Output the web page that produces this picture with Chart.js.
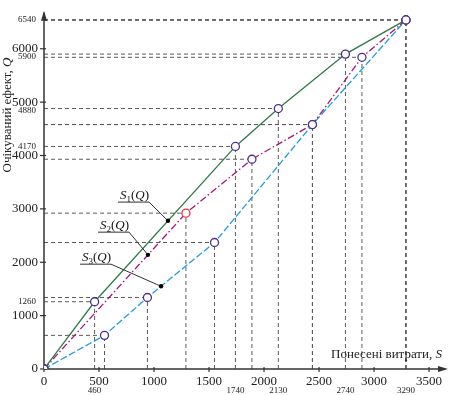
<!DOCTYPE html>
<html><head><meta charset="utf-8">
<script src="https://cdn.jsdelivr.net/npm/chart.js@4"></script>
<style>html,body{margin:0;padding:0;background:#fff}#wrap{width:450px;height:395px}</style>
</head><body><div id="wrap"><canvas id="c" width="450" height="395"></canvas></div>
<script>
// ---- data ----
const s1X = [0, 460, 1740, 2130, 2740, 3290];
const s1Y = [0, 1260, 4170, 4880, 5900, 6540];
const s2X = [0, 1290, 1890, 2440, 2890, 3290];
const s2Y = [0, 2920, 3930, 4580, 5840, 6540];
const s3X = [0, 550, 940, 1550, 2440, 3290];
const s3Y = [0, 630, 1340, 2370, 4580, 6540];
const xTicks = [0, 500, 1000, 1500, 2000, 2500, 3000, 3500];
const yTicks = [0, 1000, 2000, 3000, 4000, 5000, 6000];
const xExtraLabels = [460, 1740, 2130, 2740, 3290];
const yExtraLabels = [1260, 4170, 4880, 5900, 6540];
const seriesNames = ['1', '2', '3'];
const leaderAnchorX = [1127, 945, 1064];
const xTitle = 'Понесені витрати, ';
const yTitle = 'Очікуваний ефект, ';

// ---- styles / positions ----
const colors = ['#2f7a4a', '#a3177f', '#1f9fd8'];
const dashes = [[], [7, 2.5, 1.5, 2.5], [7, 2.5]];
const labelPos = [{x: 691, y: 3127}, {x: 509, y: 2564}, {x: 345, y: 1964}];
const yExtraShift = {5900: 3, 4880: 2};
const SERIF = '"Liberation Serif", "DejaVu Serif", serif';
const FS = 13;

function pts(xs, ys) { return xs.map((x, i) => ({x: x, y: ys[i]})); }
function interp(xs, ys, x) {
  for (let i = 0; i < xs.length - 1; i++) {
    if (x >= xs[i] && x <= xs[i + 1]) return ys[i] + (ys[i + 1] - ys[i]) * (x - xs[i]) / (xs[i + 1] - xs[i]);
  }
  return ys[ys.length - 1];
}
const allX = [s1X, s2X, s3X], allY = [s1Y, s2Y, s3Y];

const datasets = [0, 1, 2].map(k => ({
  label: 'S' + seriesNames[k] + '(Q)',
  data: pts(allX[k], allY[k]),
  showLine: true,
  borderColor: colors[k],
  borderWidth: 1.3,
  borderDash: dashes[k],
  pointRadius: 4,
  pointBackgroundColor: '#fff',
  pointBorderColor: allX[k].map((x, i) => (k === 1 && i === 1) ? '#e8334a' : '#4b2e8f'),
  pointBorderWidth: 1.3,
  tension: 0
}));

const custom = {
  id: 'custom',
  beforeDatasetsDraw(chart) {
    const ctx = chart.ctx, xs = chart.scales.x, ys = chart.scales.y, a = chart.chartArea;
    const x0 = xs.getPixelForValue(0), y0 = ys.getPixelForValue(0);
    ctx.save();
    ctx.strokeStyle = '#5a5a5a'; ctx.lineWidth = 1; ctx.setLineDash([4, 3]);
    for (let k = 0; k < 3; k++) {
      allX[k].forEach((v, i) => {
        if (v === 0) return;
        const px = xs.getPixelForValue(v), py = ys.getPixelForValue(allY[k][i]);
        ctx.beginPath(); ctx.moveTo(x0, py); ctx.lineTo(px, py); ctx.stroke();
        ctx.beginPath(); ctx.moveTo(px, y0); ctx.lineTo(px, py); ctx.stroke();
      });
    }
    ctx.setLineDash([]);
    ctx.strokeStyle = '#333'; ctx.fillStyle = '#333'; ctx.lineWidth = 1.5;
    ctx.beginPath(); ctx.moveTo(x0, y0); ctx.lineTo(a.right + 1, y0); ctx.stroke();
    ctx.beginPath(); ctx.moveTo(x0, y0); ctx.lineTo(x0, a.top - 1); ctx.stroke();
    ctx.beginPath(); ctx.moveTo(a.right + 4, y0); ctx.lineTo(a.right - 6, y0 - 3); ctx.lineTo(a.right - 6, y0 + 3); ctx.closePath(); ctx.fill();
    ctx.beginPath(); ctx.moveTo(x0, a.top - 3); ctx.lineTo(x0 - 3, a.top + 7); ctx.lineTo(x0 + 3, a.top + 7); ctx.closePath(); ctx.fill();
    ctx.lineWidth = 1.2;
    xTicks.forEach(v => { const px = xs.getPixelForValue(v); ctx.beginPath(); ctx.moveTo(px, y0 - 2); ctx.lineTo(px, y0 + 3); ctx.stroke(); });
    yTicks.forEach(v => { const py = ys.getPixelForValue(v); ctx.beginPath(); ctx.moveTo(x0 - 4, py); ctx.lineTo(x0 + 2, py); ctx.stroke(); });
    ctx.restore();
  },
  afterDatasetsDraw(chart) {
    const ctx = chart.ctx, xs = chart.scales.x, ys = chart.scales.y, a = chart.chartArea;
    const x0 = xs.getPixelForValue(0), y0 = ys.getPixelForValue(0);
    ctx.save();
    ctx.fillStyle = '#222';
    ctx.font = '9px ' + SERIF;
    ctx.textAlign = 'right'; ctx.textBaseline = 'middle';
    yExtraLabels.forEach(v => ctx.fillText(String(v), x0 - 8, ys.getPixelForValue(v) + (yExtraShift[v] || 0)));
    ctx.textAlign = 'center'; ctx.textBaseline = 'middle';
    xExtraLabels.forEach(v => ctx.fillText(String(v), xs.getPixelForValue(v), y0 + 22));
    ctx.textBaseline = 'alphabetic'; ctx.textAlign = 'left';
    ctx.font = FS + 'px ' + SERIF;
    const xw1 = ctx.measureText(xTitle).width;
    ctx.font = 'italic ' + FS + 'px ' + SERIF;
    const xw2 = ctx.measureText('S').width;
    let tx = a.right - 2 - xw1 - xw2;
    ctx.font = FS + 'px ' + SERIF; ctx.fillText(xTitle, tx, y0 - 11);
    ctx.font = 'italic ' + FS + 'px ' + SERIF; ctx.fillText('S', tx + xw1, y0 - 11);
    ctx.save();
    ctx.translate(11, 115); ctx.rotate(-Math.PI / 2);
    ctx.font = FS + 'px ' + SERIF;
    const yw1 = ctx.measureText(yTitle).width;
    ctx.font = 'italic ' + FS + 'px ' + SERIF;
    const yw2 = ctx.measureText('Q').width;
    const sx = -(yw1 + yw2) / 2;
    ctx.font = FS + 'px ' + SERIF; ctx.fillText(yTitle, sx, 0);
    ctx.font = 'italic ' + FS + 'px ' + SERIF; ctx.fillText('Q', sx + yw1, 0);
    ctx.restore();
    for (let k = 0; k < 3; k++) {
      const lx = xs.getPixelForValue(labelPos[k].x), ly = ys.getPixelForValue(labelPos[k].y);
      const base = ly - 3;
      let cx = lx;
      ctx.fillStyle = '#111';
      ctx.font = 'italic ' + FS + 'px ' + SERIF; ctx.fillText('S', cx, base); cx += ctx.measureText('S').width;
      ctx.font = '9px ' + SERIF; ctx.fillText(seriesNames[k], cx, base + 3); cx += ctx.measureText(seriesNames[k]).width;
      ctx.font = FS + 'px ' + SERIF; ctx.fillText('(', cx, base); cx += ctx.measureText('(').width;
      ctx.font = 'italic ' + FS + 'px ' + SERIF; ctx.fillText('Q', cx, base); cx += ctx.measureText('Q').width;
      ctx.font = FS + 'px ' + SERIF; ctx.fillText(')', cx, base); cx += ctx.measureText(')').width;
      const ax = xs.getPixelForValue(leaderAnchorX[k]);
      const ay = ys.getPixelForValue(interp(allX[k], allY[k], leaderAnchorX[k]));
      ctx.strokeStyle = '#333'; ctx.lineWidth = 1;
      ctx.beginPath(); ctx.moveTo(lx - 2, ly); ctx.lineTo(cx, ly); ctx.lineTo(ax, ay); ctx.stroke();
      ctx.fillStyle = '#000';
      ctx.beginPath(); ctx.arc(ax, ay, 2.2, 0, Math.PI * 2); ctx.fill();
    }
    ctx.restore();
  }
};

new Chart(document.getElementById('c'), {
  type: 'scatter',
  data: {datasets: datasets},
  options: {
    responsive: false, animation: false, devicePixelRatio: 1,
    layout: {padding: {top: 3, right: 6, left: 0, bottom: 0}},
    plugins: {legend: {display: false}, tooltip: {enabled: false}},
    scales: {
      x: {
        type: 'linear', min: 0, max: 3636,
        afterBuildTicks: s => { s.ticks = xTicks.map(v => ({value: v})); },
        afterFit: s => { s.height = 26; },
        grid: {display: false, drawTicks: false}, border: {display: false},
        ticks: {font: {family: SERIF, size: FS}, color: '#222', padding: 5, maxRotation: 0, autoSkip: false,
                callback: v => String(v)}
      },
      y: {
        type: 'linear', min: 0, max: 6655,
        afterBuildTicks: s => { s.ticks = yTicks.map(v => ({value: v})); },
        afterFit: s => { s.width = 44; },
        grid: {display: false, drawTicks: false}, border: {display: false},
        ticks: {font: {family: SERIF, size: FS}, color: '#222', padding: 6, autoSkip: false,
                callback: v => String(v)}
      }
    }
  },
  plugins: [custom]
});
</script>
</body></html>
